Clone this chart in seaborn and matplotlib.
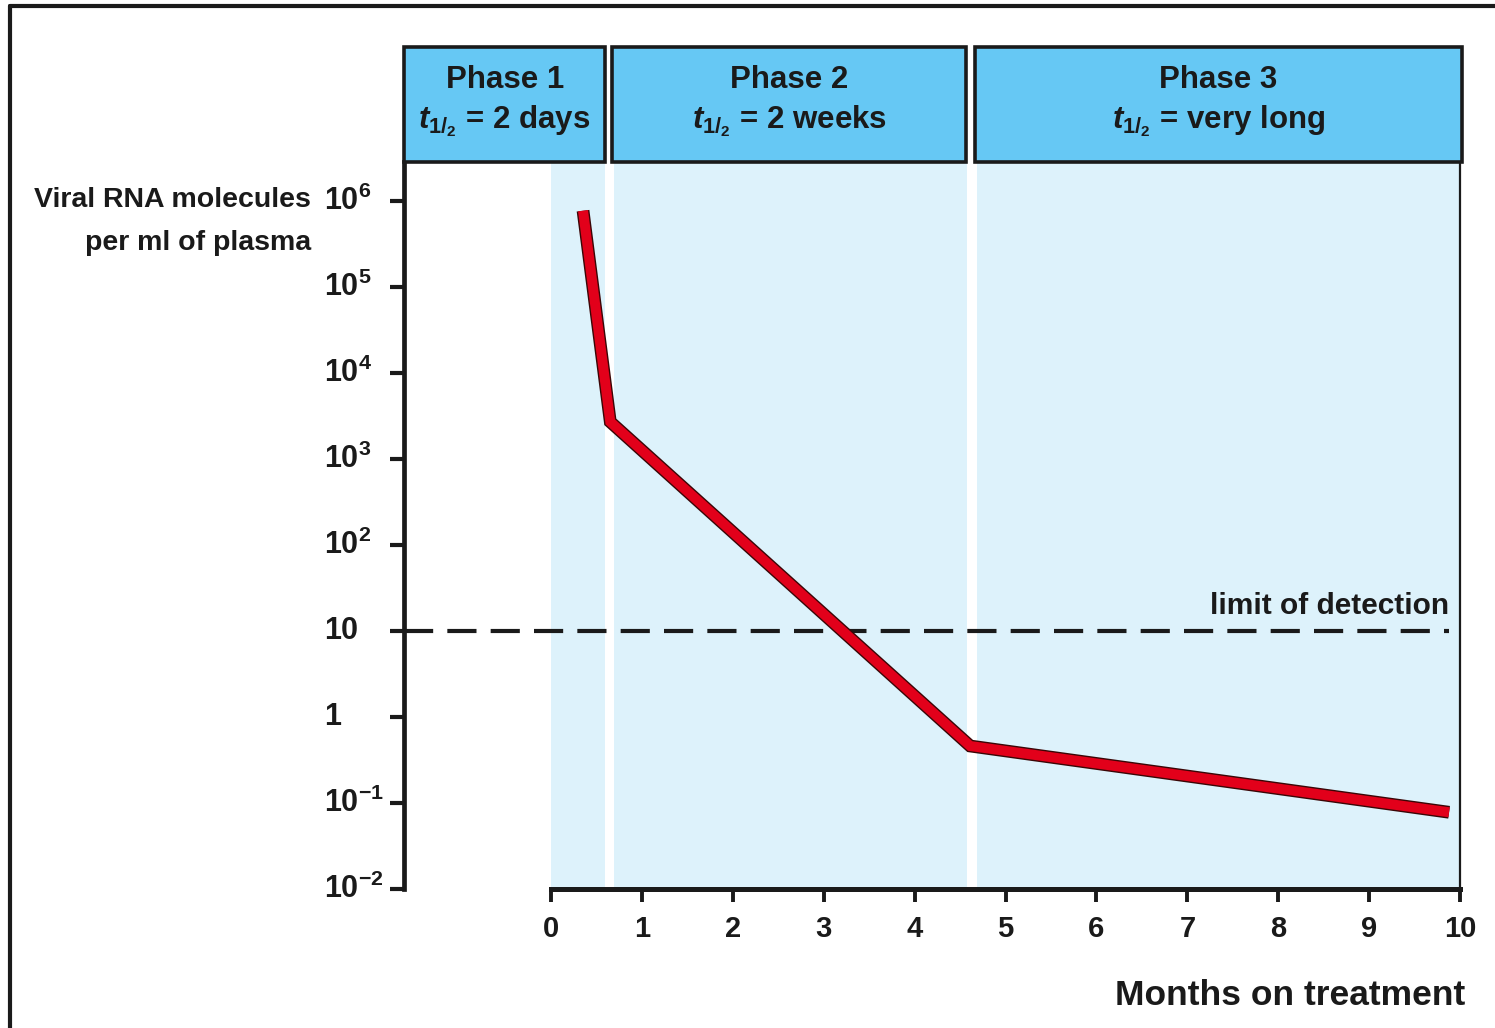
import matplotlib
matplotlib.use("Agg")
from matplotlib import pyplot as plt
from matplotlib import patheffects as pe
from matplotlib import transforms
from matplotlib.patches import Rectangle
from matplotlib.lines import Line2D
import seaborn as sns

# Values
months = [0.35, 0.65, 4.61, 9.88]
viral_rna = [7.7e5, 2.7e3, 0.46, 0.078]
detection_limit = 10

phase_names = ["Phase 1", "Phase 2", "Phase 3"]
phase_halflife = ["2 days", "2 weeks", "very long"]
phase_shading = [(0.0, 0.59), (0.69, 4.57), (4.69, 10.0)]
phase_headers = [(-1.62, 0.595), (0.67, 4.565), (4.665, 10.02)]

x_ticks = list(range(0, 11))
y_ticks = [1e-2, 1e-1, 1, 10, 1e2, 1e3, 1e4, 1e5, 1e6]
y_tick_labels = [r"$\mathregular{10^{-2}}$", r"$\mathregular{10^{-1}}$", "1", "10",
                 r"$\mathregular{10^{2}}$", r"$\mathregular{10^{3}}$",
                 r"$\mathregular{10^{4}}$", r"$\mathregular{10^{5}}$",
                 r"$\mathregular{10^{6}}$"]

sns.set_theme(style="white")
plt.rcParams["font.family"] = ["Liberation Sans", "DejaVu Sans"]
plt.rcParams["font.weight"] = "bold"
plt.rcParams["mathtext.fontset"] = "custom"
plt.rcParams["mathtext.rm"] = "Liberation Sans:bold"
plt.rcParams["mathtext.it"] = "Liberation Sans:italic:bold"
plt.rcParams["mathtext.bf"] = "Liberation Sans:bold"

ink = "#1a1a1a"
fig = plt.figure(figsize=(14.95, 10.28), dpi=100)
ax = fig.add_axes([404 / 1495, 1 - 889 / 1028, 1056 / 1495, 727 / 1028])

ax.set_yscale("log")
ax.set_xlim(-1.62, 10.0)
ax.set_ylim(1e-2, 10 ** 6.453)

# shaded phase bands
for x0, x1 in phase_shading:
    ax.axvspan(x0, x1, color="#ddf2fb", lw=0, zorder=0)

# header boxes above the plot
trans = transforms.blended_transform_factory(ax.transData, ax.transAxes)
for (x0, x1), name, hl in zip(phase_headers, phase_names, phase_halflife):
    ax.add_patch(Rectangle((x0, 1.0), x1 - x0, 0.158, transform=trans,
                           facecolor="#66c8f4", edgecolor=ink, lw=2.6,
                           clip_on=False, zorder=5))
    xc = (x0 + x1) / 2
    ax.text(xc, 1.113, name, transform=trans, ha="center", va="center",
            fontsize=22.5, fontweight="bold", color=ink, zorder=6)
    ax.text(xc, 1.056, r"$t_{1/_{2}}$" + " = " + hl, transform=trans, ha="center",
            va="center", fontsize=22.5, fontweight="bold", color=ink, zorder=6)

# limit of detection
ax.hlines(detection_limit, -1.62, months[-1], colors=ink, lw=3,
          linestyles=(0, (7, 3.4)), zorder=3)
ax.text(months[-1], 15.8, "limit of detection", ha="right", va="baseline",
        fontsize=21.5, color=ink)

# viral load curve
sns.lineplot(x=months, y=viral_rna, ax=ax, color="#e2001a", lw=7.2,
             solid_capstyle="butt", solid_joinstyle="miter", zorder=4,
             path_effects=[pe.Stroke(linewidth=9.2, foreground="#3a0606"), pe.Normal()])

# axes styling
ax.spines["top"].set_visible(False)
ax.spines["left"].set_linewidth(3.4)
ax.spines["bottom"].set_linewidth(3.6)
ax.spines["right"].set_linewidth(1.6)
for s in ["left", "bottom", "right"]:
    ax.spines[s].set_color(ink)
ax.spines["bottom"].set_bounds(0, 10)

ax.yaxis.set_minor_locator(matplotlib.ticker.NullLocator())
ax.set_yticks(y_ticks)
ax.set_yticklabels([])
ax.tick_params(axis="y", which="major", left=True, direction="out", length=10,
               width=3, color=ink)
ax.set_xticks(x_ticks)
ax.set_xticklabels([str(t) for t in x_ticks])
ax.tick_params(axis="x", which="major", bottom=True, direction="out", length=9,
               width=2.8, color=ink, pad=10, labelsize=21, labelcolor=ink)

ytrans = transforms.blended_transform_factory(ax.transAxes, ax.transData)
for v, lab in zip(y_ticks, y_tick_labels):
    ax.text(-0.0755, v, lab, transform=ytrans, ha="left", va="center",
            fontsize=22, color=ink)

ax.text(-0.088, 0.948, "Viral RNA molecules", transform=ax.transAxes,
        ha="right", va="center", fontsize=20.5, color=ink)
ax.text(-0.088, 0.889, "per ml of plasma", transform=ax.transAxes,
        ha="right", va="center", fontsize=20.5, color=ink)
ax.text(1.005, -0.146, "Months on treatment", transform=ax.transAxes,
        ha="right", va="center", fontsize=25.5, color=ink)

# frame around the figure (right and bottom run off the page)
fig.add_artist(Line2D([10 / 1495, 10 / 1495], [0, 1 - 6 / 1028], color=ink, lw=3))
fig.add_artist(Line2D([10 / 1495, 1], [1 - 6 / 1028, 1 - 6 / 1028], color=ink, lw=3))

fig.savefig("out.png", dpi=100)
